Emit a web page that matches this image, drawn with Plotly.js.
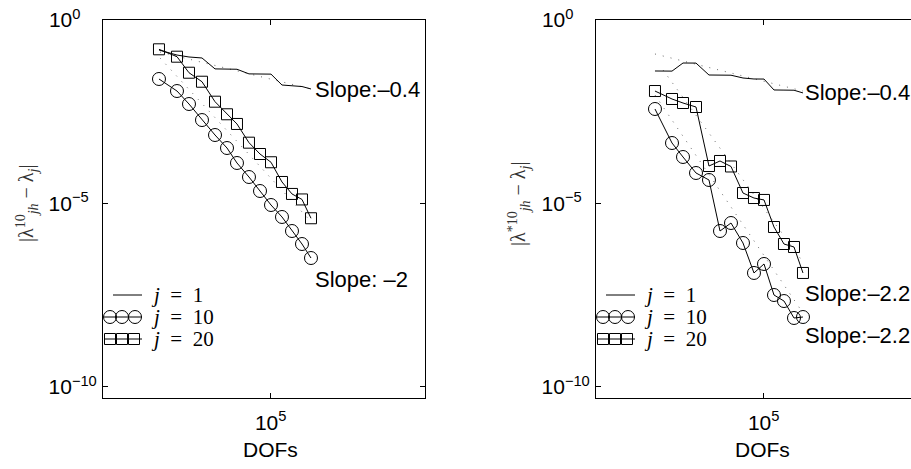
<!DOCTYPE html>
<html>
<head>
<meta charset="utf-8">
<script src="https://cdn.plot.ly/plotly-3.0.1.min.js"></script>
<style>
  html, body { margin: 0; padding: 0; overflow: hidden; background: #fff; }
  #chart { width: 918px; height: 469px; }
</style>
</head>
<body>
<div id="chart"></div>
<script>
// ---------------- data ----------------
// Left panel: |lambda^10_jh - lambda_j|
const dofsLeft = [1374, 2743, 4348, 7161, 11800, 18700, 27420, 43460, 66370, 101200, 154300, 226500, 332400, 469600];
const leftJ1  = [0.152, 0.111, 0.0982, 0.0923, 0.0465, 0.0460, 0.0455, 0.0340, 0.0338, 0.0335, 0.0169, 0.0159, 0.0154, 0.0132];
const leftJ10 = [2.47e-2, 1.16e-2, 5.14e-3, 1.88e-3, 7.35e-4, 3.25e-4, 1.27e-4, 5.27e-5, 2.19e-5, 9.10e-6, 4.29e-6, 1.78e-6, 7.87e-7, 3.27e-7];
const leftJ20 = [0.159, 0.100, 0.0366, 0.0208, 5.94e-3, 2.70e-3, 1.47e-3, 4.54e-4, 2.23e-4, 1.33e-4, 3.86e-5, 1.82e-5, 1.29e-5, 3.96e-6];
// dotted reference slope lines (left)
const leftRefSlowX = [1429, 469600];
const leftRefSlowY = [0.134, 0.0132];
const leftRefFastX = [1429, 469600];
const leftRefFastY = [0.0922, 3.2e-6];

// Right panel: |lambda^*10_jh - lambda_j|
const dofsRight = [1542, 2963, 4519, 7447, 12250, 18700, 28510, 45190, 68900, 101200, 148500, 217900, 319900, 451700];
const rightJ1  = [0.0408, 0.0405, 0.0673, 0.0670, 0.0317, 0.0315, 0.0313, 0.0263, 0.0247, 0.0246, 0.0124, 0.0123, 0.0122, 0.0103];
const rightJ10 = [3.76e-3, 4.45e-4, 1.85e-4, 6.78e-5, 4.37e-5, 1.78e-6, 2.94e-6, 8.39e-7, 1.28e-7, 2.25e-7, 3.21e-8, 2.20e-8, 7.59e-9, 8.07e-9];
const rightJ20 = [1.16e-2, 7.04e-3, 5.47e-3, 4.26e-3, 1.05e-4, 1.44e-4, 1.02e-4, 1.93e-5, 1.41e-5, 1.25e-5, 2.29e-6, 7.87e-7, 6.53e-7, 1.28e-7];
// dotted reference slope lines (right)
const rightRefSlowX = [1542, 451700];
const rightRefSlowY = [0.1186, 0.0116];
const rightRefJ20X = [2099, 451700];
const rightRefJ20Y = [0.0434, 2.55e-7];
const rightRefJ10X = [1542, 451700];
const rightRefJ10Y = [9.04e-3, 1.04e-8];

// tick labels (exponents padded with figure spaces so the "10" bases line up, as in the original)
const xTickVals = [1e5];
const xTickText = ['10<sup>5</sup>'];
const yTickVals = [1, 1e-5, 1e-10];
const yTickText = ['10<sup>0\u2007\u2007</sup>', '10<sup>\u22125\u2007</sup>', '10<sup>\u221210</sup>'];

const legendLabels = ['<i>j</i>\u2002=\u20021', '<i>j</i>\u2002=\u200210', '<i>j</i>\u2002=\u200220'];
const slopeLeft = ['Slope:\u20130.4', 'Slope: \u20132'];
const slopeRight = ['Slope:\u20130.4', 'Slope:\u20132.2', 'Slope:\u20132.2'];
const xTitle = 'DOFs';

// ---------------- layout helpers ----------------
const W = 918, H = 469;
const fx = v => v / W;
const fy = v => 1 - v / H;
const SANS = 'Liberation Sans, Arial, sans-serif';
const SERIF = 'Liberation Serif, Times New Roman, serif';

function seriesTraces(xa, ya, dofs, j1, j10, j20, refs) {
  const t = [];
  refs.forEach(r => t.push({
    x: r[0], y: r[1], xaxis: xa, yaxis: ya, type: 'scatter', mode: 'lines',
    line: { color: '#444', width: 0.8, dash: '1px,7px' }, hoverinfo: 'skip', showlegend: false
  }));
  t.push({ x: dofs, y: j1, xaxis: xa, yaxis: ya, type: 'scatter', mode: 'lines',
    line: { color: '#000', width: 1 }, showlegend: false, name: 'j = 1' });
  t.push({ x: dofs, y: j10, xaxis: xa, yaxis: ya, type: 'scatter', mode: 'lines+markers',
    line: { color: '#000', width: 1 },
    marker: { symbol: 'circle-open', size: 13, color: '#000', line: { width: 1, color: '#000' } },
    showlegend: false, name: 'j = 10' });
  t.push({ x: dofs, y: j20, xaxis: xa, yaxis: ya, type: 'scatter', mode: 'lines+markers',
    line: { color: '#000', width: 1 },
    marker: { symbol: 'square-open', size: 11, color: '#000', line: { width: 1, color: '#000' } },
    showlegend: false, name: 'j = 20' });
  return t;
}

const traces = [].concat(
  seriesTraces('x', 'y', dofsLeft, leftJ1, leftJ10, leftJ20,
    [[leftRefSlowX, leftRefSlowY], [leftRefFastX, leftRefFastY]]),
  seriesTraces('x2', 'y2', dofsRight, rightJ1, rightJ10, rightJ20,
    [[rightRefSlowX, rightRefSlowY], [rightRefJ20X, rightRefJ20Y], [rightRefJ10X, rightRefJ10Y]])
);

function xAxis(domain, anchor) {
  return {
    type: 'log', range: [2.205, 7.572], domain: domain, anchor: anchor,
    tickmode: 'array', tickvals: xTickVals, ticktext: xTickText,
    ticks: 'inside', ticklen: 5, tickwidth: 1, tickcolor: '#000',
    showline: true, linecolor: '#000', linewidth: 1, mirror: 'ticks',
    showgrid: false, zeroline: false, ticklabelstandoff: 6,
    tickfont: { family: SANS, size: 21, color: '#000' }
  };
}
function yAxis(domain, anchor) {
  return {
    type: 'log', range: [-10.3, 0], domain: domain, anchor: anchor,
    tickmode: 'array', tickvals: yTickVals, ticktext: yTickText,
    ticks: 'inside', ticklen: 5, tickwidth: 1, tickcolor: '#000',
    showline: true, linecolor: '#000', linewidth: 1, mirror: 'ticks',
    showgrid: false, zeroline: false, ticklabelstandoff: 1,
    tickfont: { family: SANS, size: 21, color: '#000' }
  };
}

const yDom = [fy(398), fy(20)];
const shapes = [];
const annotations = [];

function addLegend(x0) {
  // x0 = left edge of the plot frame in px
  const rows = [295, 317, 339];
  shapes.push({ type: 'line', xref: 'paper', yref: 'paper',
    x0: fx(x0 + 10), x1: fx(x0 + 39), y0: fy(rows[0]), y1: fy(rows[0]),
    line: { color: '#000', width: 1 } });
  shapes.push({ type: 'line', xref: 'paper', yref: 'paper',
    x0: fx(x0 + 1), x1: fx(x0 + 39), y0: fy(rows[1]), y1: fy(rows[1]),
    line: { color: '#000', width: 1 } });
  [x0 + 7, x0 + 19, x0 + 32].forEach(c => shapes.push({
    type: 'circle', xref: 'paper', yref: 'paper',
    x0: fx(c - 6.5), x1: fx(c + 6.5), y0: fy(rows[1] - 6.5), y1: fy(rows[1] + 6.5),
    line: { color: '#000', width: 1 } }));
  shapes.push({ type: 'line', xref: 'paper', yref: 'paper',
    x0: fx(x0 + 1), x1: fx(x0 + 39), y0: fy(rows[2]), y1: fy(rows[2]),
    line: { color: '#000', width: 1 } });
  [x0 + 7, x0 + 19, x0 + 31].forEach(c => shapes.push({
    type: 'rect', xref: 'paper', yref: 'paper',
    x0: fx(c - 5.5), x1: fx(c + 5.5), y0: fy(rows[2] - 5.5), y1: fy(rows[2] + 5.5),
    line: { color: '#000', width: 1 } }));
  legendLabels.forEach((txt, i) => annotations.push({
    xref: 'paper', yref: 'paper', x: fx(x0 + 46), y: fy(rows[i]),
    xanchor: 'left', yanchor: 'middle', showarrow: false, text: txt,
    font: { family: SERIF, size: 21, color: '#000' } }));
}
addLegend(103);
addLegend(596);

// slope annotations
[[slopeLeft[0], 313, 90], [slopeLeft[1], 313, 279],
 [slopeRight[0], 803, 92], [slopeRight[1], 803, 293], [slopeRight[2], 803, 335]].forEach(a =>
  annotations.push({ xref: 'paper', yref: 'paper', x: fx(a[1]), y: fy(a[2]),
    xanchor: 'left', yanchor: 'middle', showarrow: false, text: a[0],
    font: { family: SANS, size: 22, color: '#000' } }));

// x-axis titles
[270, 762].forEach(cx => annotations.push({ xref: 'paper', yref: 'paper', x: fx(cx), y: fy(449),
  xanchor: 'center', yanchor: 'middle', showarrow: false, text: xTitle,
  font: { family: SANS, size: 21, color: '#000' } }));

// y-axis titles (rotated)
annotations.push({ xref: 'paper', yref: 'paper', x: fx(27), y: fy(204), textangle: -90,
  xanchor: 'center', yanchor: 'middle', showarrow: false,
  text: '|\u03bb<sup>10</sup><sub><i>jh</i></sub> \u2212 \u03bb<sub><i>j</i></sub>|',
  font: { family: SERIF, size: 20, color: '#333' } });
annotations.push({ xref: 'paper', yref: 'paper', x: fx(519), y: fy(204), textangle: -90,
  xanchor: 'center', yanchor: 'middle', showarrow: false,
  text: '|\u03bb<sup>*10</sup><sub><i>jh</i></sub> \u2212 \u03bb<sub><i>j</i></sub>|',
  font: { family: SERIF, size: 20, color: '#333' } });

const layout = {
  width: W, height: H,
  margin: { l: 0, r: 0, t: 0, b: 0 },
  paper_bgcolor: '#fff', plot_bgcolor: '#fff',
  showlegend: false,
  xaxis: xAxis([fx(103), fx(425)], 'y'),
  yaxis: yAxis(yDom, 'x'),
  xaxis2: xAxis([fx(596), 1], 'y2'),
  yaxis2: yAxis(yDom, 'x2'),
  shapes: shapes,
  annotations: annotations
};

Plotly.newPlot('chart', traces, layout, { staticPlot: true, displayModeBar: false });
</script>
</body>
</html>
